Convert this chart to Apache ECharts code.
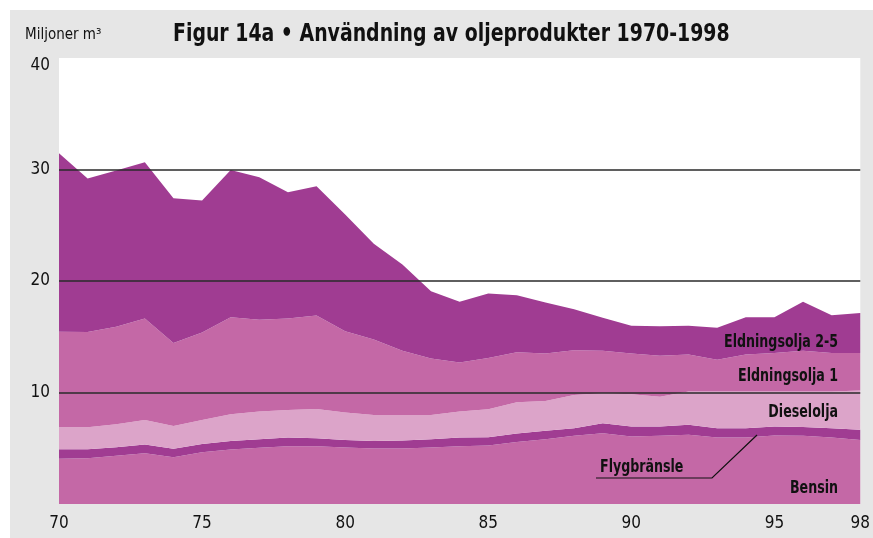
<!DOCTYPE html>
<html>
<head>
<meta charset="utf-8">
<script src="https://cdn.jsdelivr.net/npm/echarts@6/dist/echarts.min.js"></script>
<style>
html,body{margin:0;padding:0;background:#fff;}
#c{width:873px;height:538px;}
</style>
</head>
<body>
<div id="c"></div>
<script>
const years = ['70','71','72','73','74','75','76','77','78','79','80','81','82','83','84','85','86','87','88','89','90','91','92','93','94','95','96','97','98'];
const bensin = [4.05,4.11,4.32,4.56,4.20,4.65,4.89,5.04,5.19,5.19,5.07,4.98,4.98,5.07,5.19,5.25,5.55,5.81,6.11,6.35,6.05,6.11,6.20,5.96,5.96,6.14,6.11,5.96,5.75];
const flygbransle = [0.87,0.81,0.78,0.78,0.75,0.72,0.75,0.77,0.77,0.71,0.68,0.68,0.72,0.74,0.77,0.74,0.77,0.75,0.69,0.89,0.90,0.84,0.90,0.84,0.84,0.81,0.79,0.84,0.90];
const dieselolja = [1.97,1.97,2.06,2.20,2.05,2.17,2.41,2.48,2.48,2.63,2.45,2.33,2.29,2.18,2.33,2.51,2.80,2.68,2.98,2.69,2.89,2.68,2.98,3.28,3.28,3.13,3.20,3.30,3.52];
const eldning1 = [8.56,8.53,8.73,9.10,7.43,7.84,8.71,8.23,8.20,8.37,7.30,6.77,5.76,5.07,4.41,4.59,4.48,4.26,4.02,3.82,3.66,3.67,3.32,2.86,3.32,3.46,3.65,3.45,3.38];
const eldning25 = [16.01,13.77,14.01,14.01,13.00,11.84,13.20,12.79,11.33,11.60,10.47,8.59,7.72,6.02,5.43,5.78,5.12,4.57,3.67,2.95,2.48,2.65,2.58,2.86,3.36,3.22,4.38,3.38,3.59];
const gridValues = [10,20,30];

const DARK = '#a03c92', MID = '#c468a6', LIGHT = '#dca4c9';
const FONT = '"Liberation Sans Narrow","DejaVu Sans Condensed",sans-serif';

function area(name, data, color, extra) {
  return Object.assign({
    name: name, type: 'line', stack: 'total', data: data,
    symbol: 'none', lineStyle: {width: 0}, areaStyle: {color: color, opacity: 1},
    itemStyle: {color: color}, silent: true
  }, extra || {});
}
function label(text, x, y, align) {
  return {type: 'text', z: 10, silent: true, x: x, y: y, scaleX: 0.78,
    style: {text: text, x: 0, y: 0, align: align, verticalAlign: 'middle', font: 'bold 18px ' + FONT, fill: '#111'}};
}

const chart = echarts.init(document.getElementById('c'));
chart.setOption({
  animation: false,
  backgroundColor: '#ffffff',
  grid: {left: 59, right: 12, top: 58, bottom: 34, show: true, backgroundColor: '#ffffff', borderWidth: 0},
  graphic: [
    {type: 'rect', z: -10, silent: true, shape: {x: 10, y: 10, width: 863, height: 528}, style: {fill: '#e6e6e6'}},
    {type: 'text', z: 10, silent: true, x: 173, y: 35, scaleX: 0.875,
      style: {text: 'Figur 14a • Användning av oljeprodukter 1970-1998', x: 0, y: 0, align: 'left', verticalAlign: 'middle',
        font: 'bold 24px ' + FONT, fill: '#111'}},
    {type: 'text', z: 10, silent: true, x: 25, y: 35,
      style: {text: 'Miljoner m³', x: 0, y: 0, verticalAlign: 'middle', font: '15px ' + FONT, fill: '#111'}},
    label('Eldningsolja 2-5', 838, 342, 'right'),
    label('Eldningsolja 1', 838, 376, 'right'),
    label('Dieselolja', 838, 412, 'right'),
    label('Bensin', 838, 488, 'right'),
    label('Flygbränsle', 600, 467, 'left'),
    {type: 'polyline', z: 10, silent: true, shape: {points: [[596, 478], [712, 478], [757, 435]]}, style: {stroke: '#111', lineWidth: 1.2, fill: null}}
  ],
  xAxis: {
    type: 'category', data: years, boundaryGap: false,
    axisLine: {show: false}, axisTick: {show: false}, splitLine: {show: false},
    axisLabel: {
      interval: function (i) { return i % 5 === 0 || i === years.length - 1; },
      margin: 11, fontFamily: FONT, fontSize: 17, color: '#111'
    }
  },
  yAxis: {
    type: 'value', min: 0, max: 40, interval: 10,
    axisLine: {show: false}, axisTick: {show: false}, splitLine: {show: false},
    axisLabel: {
      margin: 9, fontFamily: FONT, fontSize: 17, color: '#111',
      showMinLabel: false,
      formatter: function (v) { return v === 40 ? '{t|40}' : String(v); },
      rich: {t: {fontFamily: FONT, fontSize: 17, color: '#111', padding: [16, 0, 0, 0]}}
    }
  },
  series: [
    area('Bensin', bensin, MID),
    area('Flygbränsle', flygbransle, DARK),
    area('Dieselolja', dieselolja, LIGHT),
    area('Eldningsolja 1', eldning1, MID),
    area('Eldningsolja 2-5', eldning25, DARK, {
      markLine: {
        silent: true, symbol: 'none', label: {show: false},
        lineStyle: {color: '#2a2a2a', type: 'solid', width: 1.5},
        data: gridValues.map(v => ({yAxis: v}))
      }
    })
  ]
});
</script>
</body>
</html>
